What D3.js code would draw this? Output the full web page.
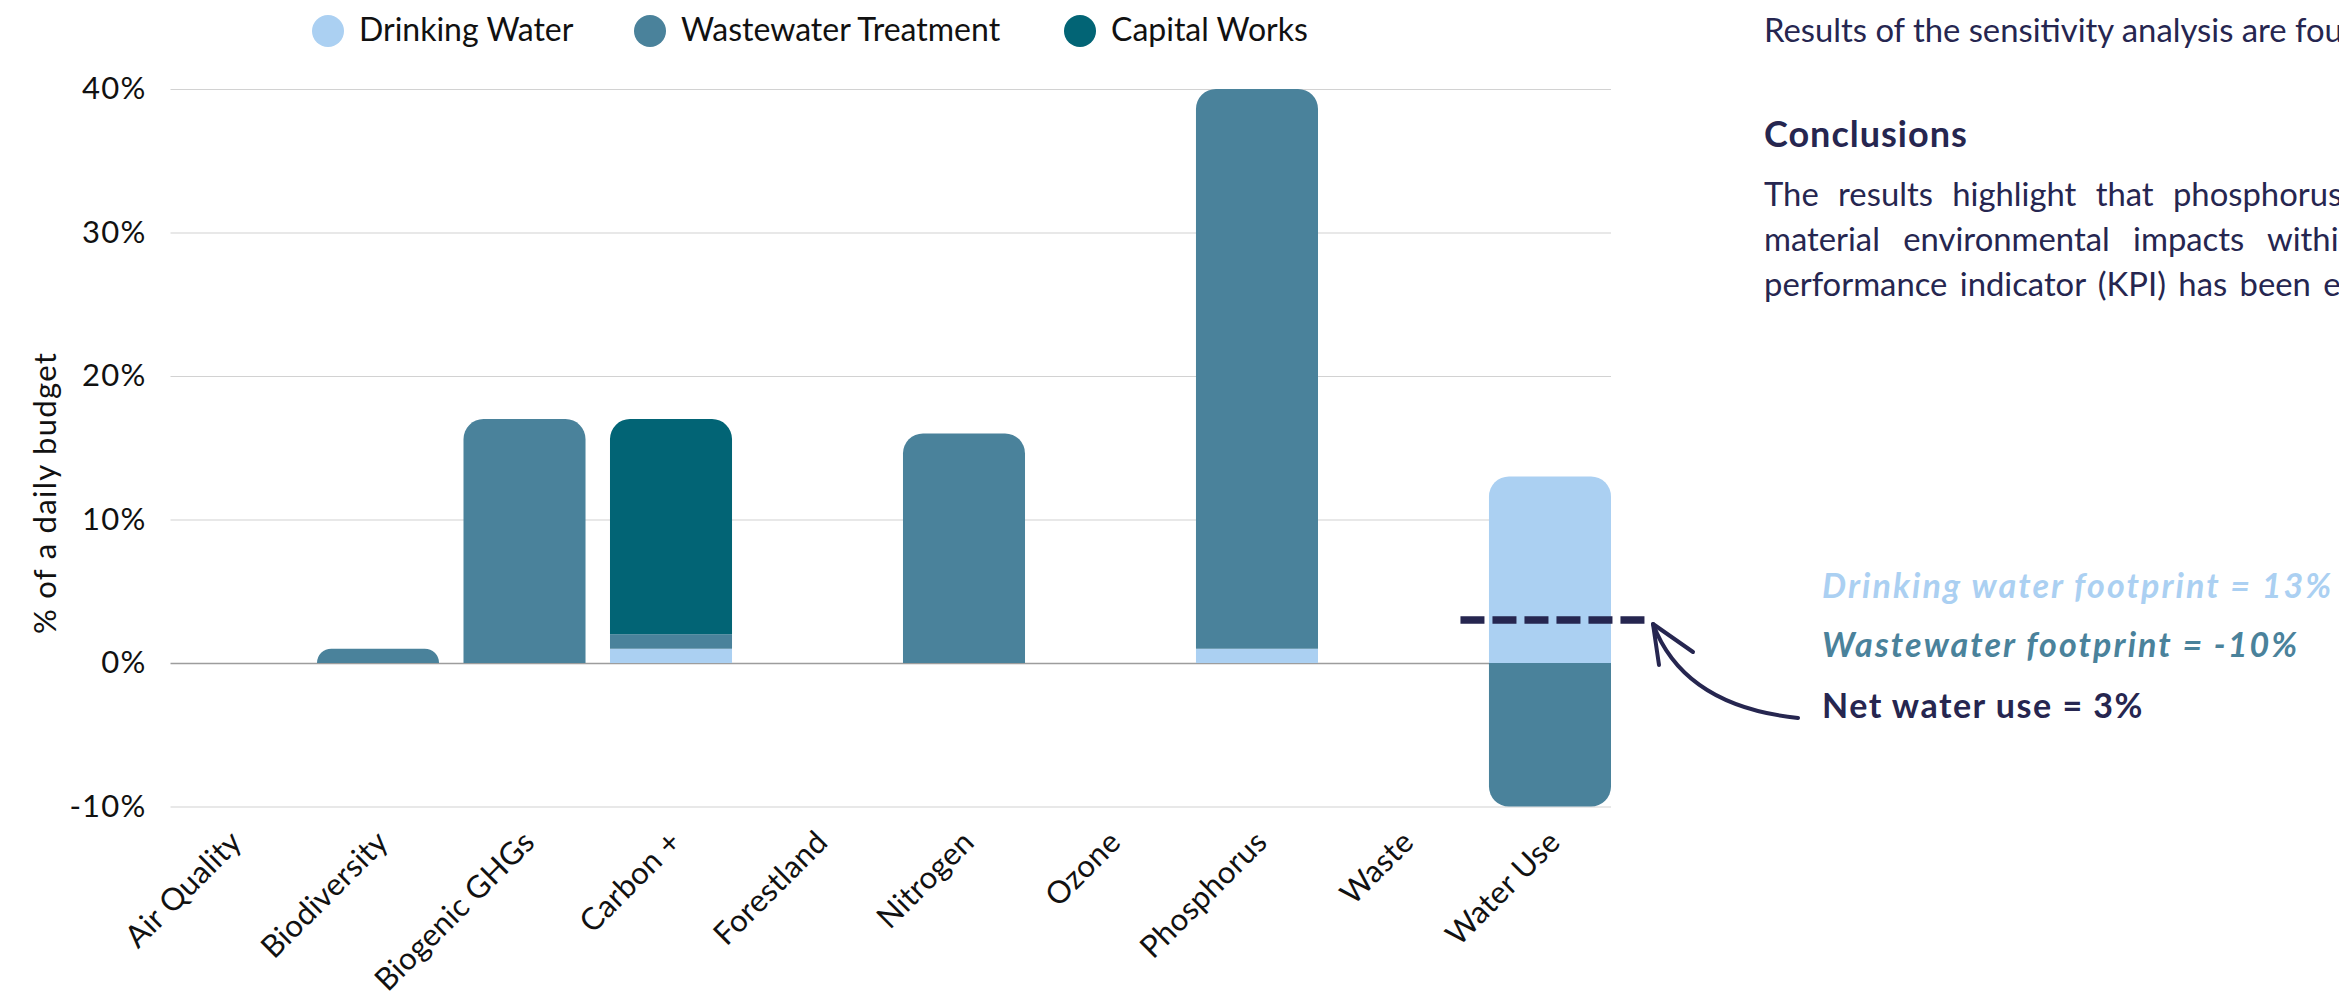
<!DOCTYPE html>
<html>
<head>
<meta charset="utf-8">
<script src="https://cdn.jsdelivr.net/npm/d3@7"></script>
<style>
  html, body { margin: 0; padding: 0; background: #ffffff; overflow: hidden; }
  svg { display: block; font-family: Lato, "Open Sans", sans-serif; }
</style>
</head>
<body>
<svg id="chart" width="2339" height="996"></svg>
<script>
// ---- data -------------------------------------------------------------
const categories = ["Air Quality", "Biodiversity", "Biogenic GHGs", "Carbon +", "Forestland",
                    "Nitrogen", "Ozone", "Phosphorus", "Waste", "Water Use"];
const drinkingWater       = [0, 0, 0, 1, 0, 0, 0, 1, 0, 13];
const wastewaterTreatment = [0, 1, 17, 1, 0, 16, 0, 39, 0, -10];
const capitalWorks        = [0, 0, 0, 15, 0, 0, 0, 0, 0, 0];
const seriesKeys   = ["drinking", "wastewater", "capital"];
const seriesNames  = ["Drinking Water", "Wastewater Treatment", "Capital Works"];
const seriesColors = ["#abd0f2", "#4a829b", "#026475"];
const yTicks  = [-10, 0, 10, 20, 30, 40];
const yDomain = [-10, 40];
const yTitle  = "% of a daily budget";

const footprintLabels = [
  "Drinking water footprint = 13%",
  "Wastewater footprint = -10%",
  "Net water use = 3%"
];
const bodyLines = [
  "Results of the sensitivity analysis are found in Appendix B.",
  "Conclusions",
  "The results highlight that phosphorus, nitrogen and biogenic greenhouse gases are the most",
  "material environmental impacts within the water sector, and a key",
  "performance indicator (KPI) has been established for each of them."
];

// ---- layout -----------------------------------------------------------
const W = 2339, H = 996;
const plot = { left: 170.5, right: 1611, top: 89, bottom: 806.5 };
const ink = "#262650";

const svg = d3.select("#chart");
svg.append("rect").attr("width", W).attr("height", H).attr("fill", "#ffffff");

const rows = categories.map((c, i) => ({
  category: c,
  drinking: drinkingWater[i],
  wastewater: wastewaterTreatment[i],
  capital: capitalWorks[i]
}));

const x = d3.scaleBand()
  .domain(categories)
  .range([plot.left, plot.right])
  .paddingInner(0.167)
  .paddingOuter(0);

const y = d3.scaleLinear().domain(yDomain).range([plot.bottom, plot.top]);

// ---- gridlines & y axis ----------------------------------------------
const yAxis = d3.axisLeft(y)
  .tickValues(yTicks)
  .tickFormat(d => d + "%")
  .tickSize(-(plot.right - plot.left))
  .tickPadding(24);

const gy = svg.append("g")
  .attr("transform", `translate(${plot.left},0)`)
  .call(yAxis);
gy.select(".domain").remove();
gy.selectAll(".tick line")
  .attr("stroke", d => d === 0 ? "#9d9d9d" : "#d2d2d2")
  .attr("stroke-width", d => d === 0 ? 1.6 : 1.2);
gy.selectAll(".tick text")
  .attr("fill", "#111111")
  .attr("font-size", 31)
  .attr("letter-spacing", 1.2)
  .attr("font-family", "Lato, sans-serif");

svg.append("text")
  .attr("transform", `translate(56,493) rotate(-90)`)
  .attr("text-anchor", "middle")
  .attr("font-size", 31)
  .attr("letter-spacing", 1.3)
  .attr("fill", "#111111")
  .text(yTitle);

// ---- stacked bars ------------------------------------------------------
const stack = d3.stack().keys(seriesKeys).offset(d3.stackOffsetDiverging);
const layers = stack(rows);

const R = 20;
function barPath(x0, yTop, w, h, roundTop, roundBottom) {
  const r = Math.min(R, h, w / 2);
  const yB = yTop + h;
  if (roundTop) {
    return `M${x0},${yB} L${x0},${yTop + r} A${r},${r} 0 0 1 ${x0 + r},${yTop}` +
           ` L${x0 + w - r},${yTop} A${r},${r} 0 0 1 ${x0 + w},${yTop + r} L${x0 + w},${yB} Z`;
  }
  if (roundBottom) {
    return `M${x0},${yTop} L${x0 + w},${yTop} L${x0 + w},${yB - r} A${r},${r} 0 0 1 ${x0 + w - r},${yB}` +
           ` L${x0 + r},${yB} A${r},${r} 0 0 1 ${x0},${yB - r} Z`;
  }
  return `M${x0},${yTop} H${x0 + w} V${yB} H${x0} Z`;
}

// which series ends each positive / negative stack
const topKey = rows.map(r => {
  let k = null;
  seriesKeys.forEach(s => { if (r[s] > 0) k = s; });
  return k;
});
const bottomKey = rows.map(r => {
  let k = null;
  seriesKeys.forEach(s => { if (r[s] < 0) k = s; });
  return k;
});

const gBars = svg.append("g");
layers.forEach((layer, li) => {
  gBars.selectAll(null)
    .data(layer.map((seg, i) => ({ seg, i, key: layer.key })))
    .join("path")
    .filter(d => d.seg[1] !== d.seg[0])
    .attr("fill", seriesColors[li])
    .attr("d", d => {
      const x0 = x(categories[d.i]);
      const yTop = y(Math.max(d.seg[0], d.seg[1]));
      const h = Math.abs(y(d.seg[0]) - y(d.seg[1]));
      return barPath(x0, yTop, x.bandwidth(), h,
                     topKey[d.i] === d.key && d.seg[1] > 0,
                     bottomKey[d.i] === d.key && d.seg[1] <= 0);
    });
});

// ---- x axis labels -----------------------------------------------------
svg.append("g").selectAll("text")
  .data(categories)
  .join("text")
  .attr("transform", d => `translate(${x(d) + x.bandwidth() / 2 + 12},844) rotate(-45)`)
  .attr("text-anchor", "end")
  .attr("font-size", 31)
  .attr("letter-spacing", 0.3)
  .attr("fill", "#111111")
  .text(d => d);

// ---- legend ------------------------------------------------------------
const legendX = [328, 650, 1080];
const gLeg = svg.append("g");
seriesNames.forEach((name, i) => {
  gLeg.append("circle").attr("cx", legendX[i]).attr("cy", 31).attr("r", 16).attr("fill", seriesColors[i]);
  gLeg.append("text").attr("x", legendX[i] + 31).attr("y", 41)
    .attr("font-size", 32).attr("fill", "#111111").text(name);
});

// ---- net water use marker ---------------------------------------------
const wi = categories.indexOf("Water Use");
const netWater = drinkingWater[wi] + wastewaterTreatment[wi];
const bx = x("Water Use");
svg.append("line")
  .attr("x1", bx - 28.5).attr("x2", bx - 28.5 + 184)
  .attr("y1", y(netWater)).attr("y2", y(netWater))
  .attr("stroke", ink).attr("stroke-width", 7.5)
  .attr("stroke-dasharray", "24,8");

// curved arrow pointing at the marker
const tail = [1798, 718], tip = [1653, 624];
svg.append("path")
  .attr("d", `M${tail[0]},${tail[1]} Q1684,706 ${tip[0]},${tip[1]}`)
  .attr("fill", "none").attr("stroke", ink).attr("stroke-width", 4).attr("stroke-linecap", "round");
svg.append("path")
  .attr("d", `M1659,665 L${tip[0]},${tip[1]} L1693,652`)
  .attr("fill", "none").attr("stroke", ink).attr("stroke-width", 4)
  .attr("stroke-linecap", "round").attr("stroke-linejoin", "round");

const annColors = [seriesColors[0], seriesColors[1], ink];
const annStyle  = ["italic", "italic", "normal"];
const annSpacing = [2.1, 2.1, 1.5];
const annY = [598, 657, 718];
footprintLabels.forEach((t, i) => {
  svg.append("text")
    .attr("x", 1822).attr("y", annY[i])
    .attr("font-size", 34).attr("font-weight", 700)
    .attr("font-style", annStyle[i])
    .attr("letter-spacing", annSpacing[i])
    .attr("fill", annColors[i])
    .text(t);
});

// ---- side text ---------------------------------------------------------
const gTxt = svg.append("g").attr("fill", ink);
gTxt.append("text").attr("x", 1764).attr("y", 42)
  .attr("font-size", 32.8).text(bodyLines[0]);
gTxt.append("text").attr("x", 1764).attr("y", 147)
  .attr("font-size", 36).attr("font-weight", 700).attr("letter-spacing", 1).text(bodyLines[1]);
const paraY = [206, 251, 296];
const paraWordSpacing = [11, 15, 4];
[2, 3, 4].forEach((li, k) => {
  gTxt.append("text").attr("x", 1764).attr("y", paraY[k])
    .attr("font-size", 32.8)
    .style("word-spacing", paraWordSpacing[k] + "px")
    .text(bodyLines[li]);
});
</script>
</body>
</html>
